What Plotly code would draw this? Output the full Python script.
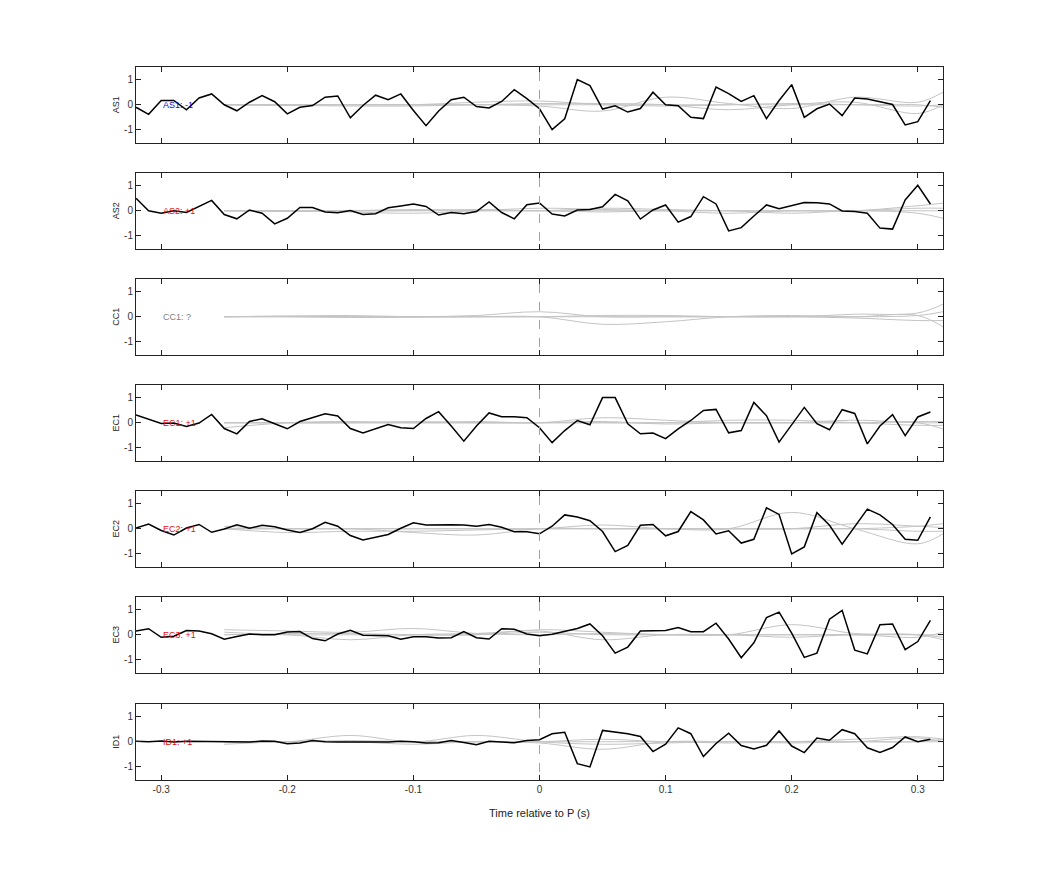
import plotly.graph_objects as go

names = ["AS1", "AS2", "CC1", "EC1", "EC2", "EC3", "ID1"]
labels = ["AS1: -1", "AS2: +1", "CC1: ?", "EC1: +1", "EC2: +1", "EC3: +1", "ID1: +1"]
label_colors = ["#1010d0", "#e01010", "#808080", "#e01010", "#e01010", "#e01010", "#e01010"]
x_ticks = [-0.3, -0.2, -0.1, 0, 0.1, 0.2, 0.3]
x_ticktext = ["-0.3", "-0.2", "-0.1", "0", "0.1", "0.2", "0.3"]
y_ticks = [-1, 0, 1]
y_ticktext = ["-1", "0", "1"]

t_black = [round(-0.32 + 0.01 * i, 2) for i in range(64)]

AS1 = [-0.1,-0.38,0.17,0.17,-0.2,0.27,0.43,0,-0.24,0.1,0.36,0.12,-0.36,-0.1,-0.03,0.3,0.35,-0.52,-0.03,0.38,0.2,0.43,-0.23,-0.83,-0.25,0.2,0.3,-0.07,-0.13,0.13,0.6,0.24,-0.16,
       -0.99,-0.56,1.0,0.76,-0.17,-0.04,-0.29,-0.15,0.5,0,-0.04,-0.5,-0.55,0.7,0.44,0.13,0.36,-0.55,0.17,0.8,-0.5,-0.16,0.03,-0.43,0.27,0.23,0.13,0.01,-0.8,-0.67,0.16]
AS2 = [0.5,0,-0.1,0,-0.07,0.17,0.41,-0.15,-0.32,0.03,-0.1,-0.52,-0.3,0.13,0.13,-0.05,-0.08,0.01,-0.15,-0.12,0.12,0.19,0.27,0.17,-0.17,-0.07,-0.12,-0.03,0.35,-0.07,-0.32,0.24,0.31,
       -0.13,-0.21,0.03,0.05,0.16,0.65,0.39,-0.33,0.03,0.23,-0.45,-0.23,0.56,0.27,-0.8,-0.67,-0.21,0.23,0.08,0.19,0.33,0.32,0.27,-0.01,-0.03,-0.1,-0.69,-0.73,0.43,1.01,0.27]
CC1 = None
EC1 = [0.31,0.15,-0.03,-0.01,-0.15,-0.01,0.33,-0.23,-0.44,0.05,0.16,-0.04,-0.24,0.05,0.2,0.36,0.27,-0.23,-0.41,-0.24,-0.07,-0.2,-0.23,0.17,0.44,-0.13,-0.73,-0.13,0.39,0.24,0.24,0.2,-0.2,
       -0.79,-0.31,0.09,-0.08,1.0,1.0,-0.04,-0.44,-0.41,-0.63,-0.24,0.09,0.49,0.53,-0.4,-0.31,0.81,0.28,-0.77,-0.07,0.61,-0.04,-0.28,0.52,0.37,-0.84,-0.13,0.32,-0.51,0.23,0.43]
EC2 = [0.03,0.19,-0.07,-0.25,0.03,0.17,-0.14,-0.01,0.16,0.02,0.14,0.08,-0.05,-0.15,0,0.26,0.1,-0.27,-0.45,-0.33,-0.23,0.02,0.24,0.15,0.17,0.16,0.15,0.1,0.17,0.06,-0.12,-0.12,-0.2,
       0.1,0.55,0.47,0.32,-0.11,-0.91,-0.66,0.14,0.17,-0.28,-0.11,0.68,0.35,-0.21,-0.08,-0.57,-0.42,0.83,0.57,-1.0,-0.72,0.64,0.14,-0.61,0.1,0.78,0.55,0.17,-0.42,-0.46,0.47]
EC3 = [0.15,0.24,-0.1,-0.06,0.17,0.15,0.04,-0.18,-0.07,0.03,0,0,0.11,0.13,-0.15,-0.24,0.03,0.18,-0.02,-0.02,-0.04,-0.18,-0.08,-0.08,-0.13,-0.12,0.13,-0.12,-0.17,0.24,0.22,0.03,-0.04,
       0.02,0.12,0.25,0.43,-0.04,-0.73,-0.49,0.15,0.17,0.17,0.29,0.12,0.12,0.46,-0.17,-0.91,-0.32,0.68,0.9,0.06,-0.9,-0.73,0.62,0.97,-0.61,-0.76,0.4,0.43,-0.59,-0.27,0.57]
ID1 = [0.02,0.0,0.03,-0.01,0.02,0.01,0.0,0.0,0.0,-0.01,0.03,0.02,-0.08,-0.05,0.05,0.0,-0.01,0.0,-0.01,-0.01,-0.01,0.02,0.0,-0.05,-0.04,0.05,-0.03,-0.12,0.02,0.0,-0.04,0.05,0.08,
       0.32,0.38,-0.87,-1.0,0.45,0.38,0.32,0.21,-0.39,-0.1,0.55,0.32,-0.59,-0.07,0.34,-0.15,-0.29,-0.14,0.43,-0.17,-0.43,0.15,0.06,0.48,0.32,-0.24,-0.43,-0.23,0.19,0,0.1]
black = [AS1, AS2, CC1, EC1, EC2, EC3, ID1]

t_gray = [-0.25,-0.2,-0.15,-0.1,-0.05,0,0.05,0.1,0.15,0.2,0.25,0.3,0.32]
gray = [
    [[0,0,0,0,0.1,0.15,0,-0.05,0,0.05,0,-0.05,0],
     [0,0,0,0,0,-0.05,-0.25,0.3,0.05,-0.15,0.3,0.1,0.5],
     [0,0,0,0,0,0.05,0.05,0,-0.2,0,0.1,-0.35,0.0],
     [0,-0.03,-0.05,-0.05,0,0,0,0,0,0,0,0,-0.1]],
    [[0,0,-0.05,-0.1,0,0.1,0.05,0,-0.1,0,0,0.2,0.3],
     [0,0,0,0,0.05,0,0.1,0.05,0,0,0,0.1,0.1],
     [0,-0.03,0,0.05,0,0,-0.05,0,0,-0.1,0,-0.1,-0.3],
     [0,0,0,0,0,0,0,0,0,0,0,0,0]],
    [[0,0.02,0,0,0.05,0.2,0,0,0,0,0.1,0.15,0.5],
     [0,0,0,0,0,0,-0.3,-0.2,0,0.05,0,0.05,-0.4],
     [0,0.03,0.05,0,0,0,0.05,0.05,0,0,-0.05,-0.15,-0.15],
     [0,0,-0.03,-0.02,0,0,0,0,0,0,0,0.05,0.2]],
    [[0,0,0,0,0.05,0,0.2,0.1,0,0,0,0,-0.25],
     [-0.2,0,0.05,0,0,0,0,0,0.1,0.1,0,-0.1,-0.1],
     [0,0,0,0.05,0,0,0.05,-0.05,0,0,0,0.05,0.05],
     [0,0,0,0,0,0,0,0,0,0,0.1,0,0]],
    [[0.1,0,0,0,0,0,0.15,0,0,0.65,0,-0.6,-0.2],
     [0,-0.15,-0.1,-0.1,-0.05,0,0,0,0,0,0.2,0.1,0.05],
     [0,0,0,-0.15,-0.25,0,0,0,0,0,0,-0.1,-0.1],
     [0,0,0,0,0,0,0,0,0,0,0,0.1,0.2]],
    [[0.2,0.15,0.1,0.25,0.05,0,0.05,0,0,0.4,0.05,0,-0.2],
     [0,0,-0.2,0,0.05,0.15,-0.2,0,0,-0.1,0,-0.1,0.1],
     [0.1,0,0,0,0,0.1,0,0,0,0,0,0,0],
     [0,0.05,0.05,0,0,0.2,0.1,0,0,0,0,0,-0.1]],
    [[0,0,0.25,0,0.25,0,-0.1,-0.05,0,0,0,0.15,0],
     [-0.1,0,0,-0.1,0,-0.05,-0.3,0,0,-0.05,0,0,0.1],
     [0,0,0.05,0,0,0,0.1,0,0,0,0.1,0.2,0.1],
     [0,0,0,0,0,0,0,0,-0.05,0,0,0,0]],
]

W, H = 1042, 875
tops = [59, 165, 271, 377, 483, 589, 696]
ph = 75.5

fig = go.Figure()
ff = "Liberation Sans, Arial, sans-serif"
font = dict(family=ff, size=10, color="#333333")
for k, name in enumerate(names):
    ax = "" if k == 0 else str(k + 1)
    xa, ya = "x" + ax, "y" + ax
    for g in gray[k]:
        fig.add_trace(go.Scatter(x=t_gray, y=g, mode="lines", line=dict(color="#c4c4c4", width=1, shape="spline"),
                                 xaxis=xa, yaxis=ya, showlegend=False, hoverinfo="skip"))
    if black[k] is not None:
        fig.add_trace(go.Scatter(x=t_black, y=black[k], mode="lines", line=dict(color="black", width=1.5),
                                 xaxis=xa, yaxis=ya, showlegend=False))
    fig.add_shape(type="line", x0=0, x1=0, y0=-1.2, y1=1.5, xref=xa, yref=ya,
                  line=dict(color="#ee8080", width=1, dash="dash"))
    fig.add_annotation(x=-0.3, y=0, xref=xa, yref=ya, text=labels[k], showarrow=False, xanchor="left",
                       font=dict(family=ff, size=9, color=label_colors[k]))
    top, bot = tops[k], tops[k] + ph
    common = dict(showline=True, mirror="ticks", linecolor="#222", linewidth=1, ticks="inside",
                  ticklen=5, tickcolor="#222", showgrid=False, zeroline=False, tickfont=font)
    fig.update_layout(**{
        "xaxis" + ax: dict(domain=[0, 1], range=[-0.32, 0.32], tickvals=x_ticks, ticktext=x_ticktext,
                           showticklabels=(k == 6), anchor=ya,
                           title=dict(text="Time relative to P (s)", font=dict(family=ff, size=11, color="#222")) if k == 6 else None,
                           **common),
        "yaxis" + ax: dict(domain=[1 - bot / H, 1 - top / H], range=[-1.5, 1.5], tickvals=y_ticks, ticktext=y_ticktext,
                           anchor=xa,
                           title=dict(text=name, font=dict(family=ff, size=9, color="#222"), standoff=2),
                           **common),
    })

fig.update_layout(width=W, height=H, margin=dict(l=128, r=107, t=0, b=0),
                  plot_bgcolor="white", paper_bgcolor="white")
fig.write_html("out.html")
